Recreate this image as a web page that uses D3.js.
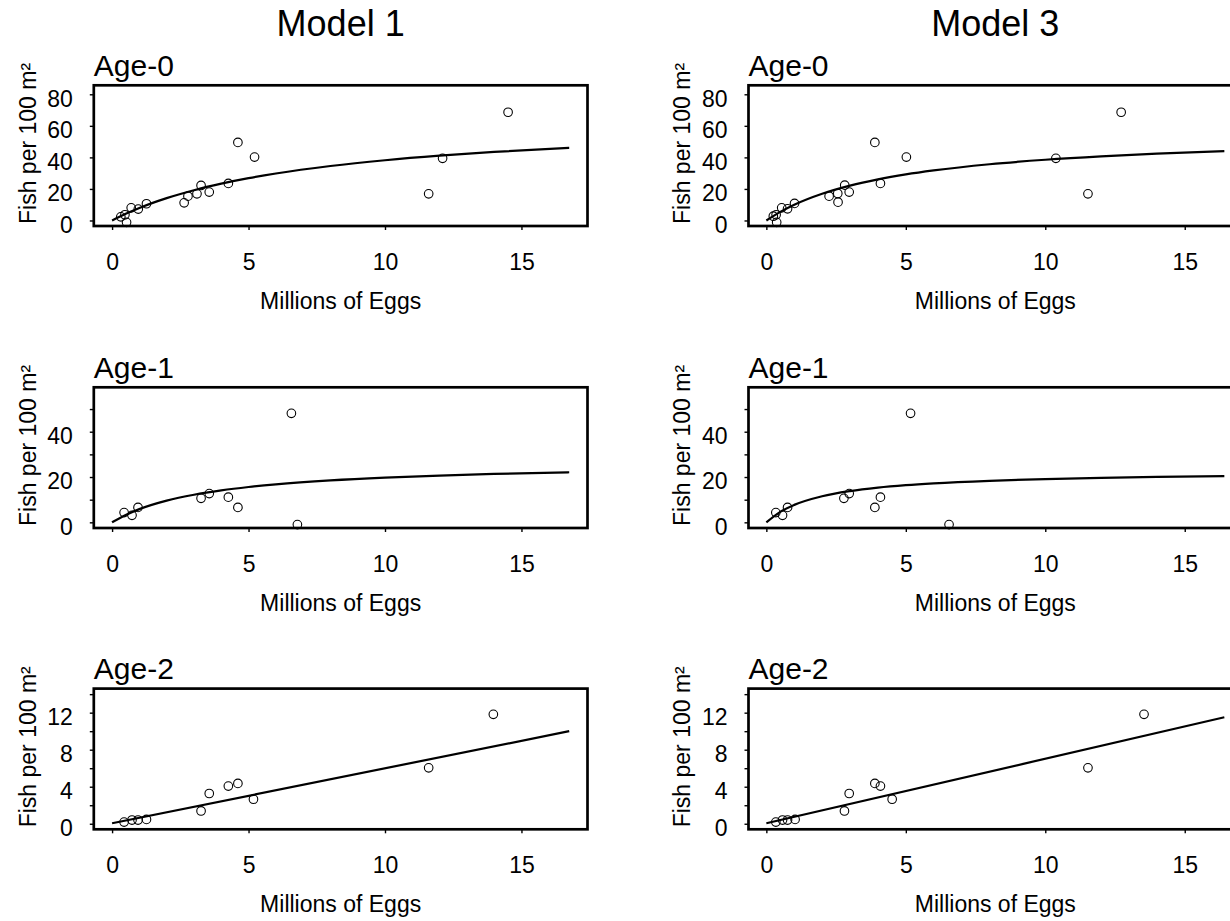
<!DOCTYPE html>
<html>
<head>
<meta charset="utf-8">
<script src="https://cdn.jsdelivr.net/npm/d3@7"></script>
<style>
  body { margin: 0; background: #fff; }
  svg { display: block; }
</style>
</head>
<body>
<div id="chart"></div>
<script>
const models = ["Model 1", "Model 3"];
const ages = ["Age-0", "Age-1", "Age-2"];

// observed points (millions of eggs, fish per 100 m2)
const m1Age0Eggs = [0.32, 0.47, 0.53, 0.70, 0.96, 1.26, 2.64, 2.78, 3.11, 3.26, 3.56, 4.26, 4.61, 5.22, 11.60, 12.11, 14.51];
const m1Age0Fish = [2.3, 3.6, -1.2, 8.0, 7.2, 10.6, 11.2, 15.4, 16.9, 22.2, 18.0, 23.5, 49.5, 40.2, 16.9, 39.4, 68.6];
const m3Age0Eggs = [0.25, 0.35, 0.37, 0.55, 0.76, 1.01, 2.57, 2.25, 2.56, 2.81, 2.97, 4.09, 3.89, 5.02, 11.53, 10.38, 12.72];
const m3Age0Fish = [2.7, 3.6, -1.2, 8.0, 7.4, 10.8, 11.6, 15.4, 17.1, 22.4, 18.0, 23.5, 49.5, 40.2, 16.9, 39.4, 68.6];

const m1Age1Eggs = [0.44, 0.73, 0.95, 3.26, 3.56, 4.26, 4.61, 6.57, 6.79];
const m1Age1Fish = [4.3, 3.1, 6.6, 10.6, 12.7, 11.1, 6.6, 48.1, -1.0];
const m3Age1Eggs = [0.34, 0.58, 0.76, 2.78, 2.97, 4.09, 3.89, 5.17, 6.55];
const m3Age1Fish = [4.3, 3.1, 6.6, 10.6, 12.7, 11.1, 6.6, 48.1, -1.0];

const m1Age2Eggs = [0.44, 0.73, 0.95, 1.26, 3.26, 3.56, 4.26, 4.61, 5.18, 11.60, 13.97];
const m1Age2Fish = [0.18, 0.4, 0.4, 0.47, 1.38, 3.27, 4.07, 4.36, 2.65, 6.04, 11.82];
const m3Age2Eggs = [0.34, 0.58, 0.76, 1.03, 2.80, 2.97, 4.09, 3.89, 4.51, 11.53, 13.54];
const m3Age2Fish = [0.18, 0.4, 0.4, 0.47, 1.38, 3.27, 4.07, 4.36, 2.65, 6.04, 11.82];

// fitted curves
const m1FitEggs = [0, 0.5, 1, 2, 3, 4, 5, 6, 8, 10, 12, 14, 16.75];
const m3FitEggs = [0, 0.5, 1, 2, 3, 4, 5, 6, 8, 10, 12, 14, 16.42];
const m1Age0Fit = [0, 4.21, 7.93, 14.16, 19.19, 23.34, 26.82, 29.78, 34.54, 38.2, 41.11, 43.48, 46.1];
const m3Age0Fit = [0, 5.45, 9.95, 16.92, 22.07, 26.04, 29.2, 31.75, 35.66, 38.5, 40.66, 42.36, 44.0];
const m1Age1Fit = [0, 3.27, 5.83, 9.58, 12.19, 14.12, 15.6, 16.77, 18.51, 19.74, 20.65, 21.35, 22.1];
const m3Age1Fit = [0, 4.64, 7.71, 11.53, 13.8, 15.32, 16.4, 17.21, 18.34, 19.1, 19.64, 20.04, 20.4];
const m1Age2LineEggs = [0, 16.75];
const m1Age2Line = [0.05, 10.0];
const m3Age2LineEggs = [0, 16.42];
const m3Age2Line = [0.05, 11.5];

const xTicks = [0, 5, 10, 15];
const yTicks = [[0, 20, 40, 60, 80], [0, 10, 20, 30, 40, 50], [0, 2, 4, 6, 8, 10, 12, 14]];
const yTickLabels = [[0, 20, 40, 60, 80], [0, 20, 40], [0, 4, 8, 12]];

const xTitle = "Millions of Eggs";
const yTitle = "Fish per 100 m²";

const panels = [
  { col: 0, row: 0, eggs: m1Age0Eggs, fish: m1Age0Fish, fitX: m1FitEggs, fitY: m1Age0Fit },
  { col: 0, row: 1, eggs: m1Age1Eggs, fish: m1Age1Fish, fitX: m1FitEggs, fitY: m1Age1Fit },
  { col: 0, row: 2, eggs: m1Age2Eggs, fish: m1Age2Fish, fitX: m1Age2LineEggs, fitY: m1Age2Line },
  { col: 1, row: 0, eggs: m3Age0Eggs, fish: m3Age0Fish, fitX: m3FitEggs, fitY: m3Age0Fit },
  { col: 1, row: 1, eggs: m3Age1Eggs, fish: m3Age1Fish, fitX: m3FitEggs, fitY: m3Age1Fit },
  { col: 1, row: 2, eggs: m3Age2Eggs, fish: m3Age2Fish, fitX: m3Age2LineEggs, fitY: m3Age2Line }
];

const w = 1230;
const h = 921;
const font = "'Liberation Sans', Arial, Helvetica, sans-serif";
const colLefts = [93.8, 748.5];
const rowTops = [85.3, 387.3, 688.6];
const boxW = 493.7;
const boxH = 140.7;
const xDomains = [[-0.67, 17.42], [-0.64, 17.06]];
const yDomains = [[-3.5, 85.7], [-2.5, 59.6], [-0.6, 14.6]];

const svg = d3
  .select("#chart")
  .append("svg")
  .attr("width", w)
  .attr("height", h)
  .style("font-family", font);

svg.append("rect").attr("width", w).attr("height", h).attr("fill", "#fff");

// column titles
svg
  .selectAll(".model-title")
  .data(models)
  .enter()
  .append("text")
  .attr("class", "model-title")
  .attr("x", (d, i) => colLefts[i] + boxW / 2)
  .attr("y", 36)
  .attr("text-anchor", "middle")
  .attr("font-size", 36)
  .text((d) => d);

panels.forEach((p) => {
  const left = colLefts[p.col];
  const top = rowTops[p.row];

  const x = d3.scaleLinear().domain(xDomains[p.col]).range([left, left + boxW]);
  const y = d3.scaleLinear().domain(yDomains[p.row]).range([top + boxH, top]);

  const g = svg.append("g");

  // y axis
  const gy = g
    .append("g")
    .attr("transform", `translate(${left},0)`)
    .call(
      d3
        .axisLeft(y)
        .tickValues(yTicks[p.row])
        .tickSize(4)
        .tickPadding(17)
        .tickFormat((d) => (yTickLabels[p.row].includes(d) ? d : ""))
    );
  gy.select(".domain").remove();
  gy.attr("font-size", 23).attr("font-family", font);
  gy.selectAll("line").attr("stroke-width", 1.4);
  gy.selectAll("text").attr("dy", "0.52em").attr("fill", "#000");

  // x axis
  const gx = g
    .append("g")
    .attr("transform", `translate(0,${top + boxH})`)
    .call(d3.axisBottom(x).tickValues(xTicks).tickSize(4).tickPadding(23.4).tickFormat(d3.format("d")));
  gx.select(".domain").remove();
  gx.attr("font-size", 23).attr("font-family", font);
  gx.selectAll("line").attr("stroke-width", 1.4);
  gx.selectAll("text").attr("fill", "#000");

  // fitted curve
  const line = d3
    .line()
    .x((d, i) => x(p.fitX[i]))
    .y((d) => y(d))
    .curve(d3.curveMonotoneX);

  g.append("path")
    .attr("d", line(p.fitY))
    .attr("fill", "none")
    .attr("stroke", "#000")
    .attr("stroke-width", 2.2);

  // observations
  g.selectAll(".pt")
    .data(p.eggs)
    .enter()
    .append("circle")
    .attr("class", "pt")
    .attr("cx", (d) => x(d))
    .attr("cy", (d, i) => y(p.fish[i]))
    .attr("r", 4.3)
    .attr("fill", "none")
    .attr("stroke", "#000")
    .attr("stroke-width", 1.1);

  // plot frame
  g.append("rect")
    .attr("x", left)
    .attr("y", top)
    .attr("width", boxW)
    .attr("height", boxH)
    .attr("fill", "none")
    .attr("stroke", "#000")
    .attr("stroke-width", 2.7);

  g.append("text")
    .attr("x", left)
    .attr("y", top - 9.3)
    .attr("font-size", 30)
    .text(ages[p.row]);

  g.append("text")
    .attr("x", left + boxW / 2)
    .attr("y", top + boxH + 83)
    .attr("text-anchor", "middle")
    .attr("font-size", 23)
    .text(xTitle);

  g.append("text")
    .attr("transform", `translate(${left - 58.3},${top + boxH - 2}) rotate(-90)`)
    .attr("text-anchor", "start")
    .attr("font-size", 23)
    .text(yTitle);
});
</script>
</body>
</html>
